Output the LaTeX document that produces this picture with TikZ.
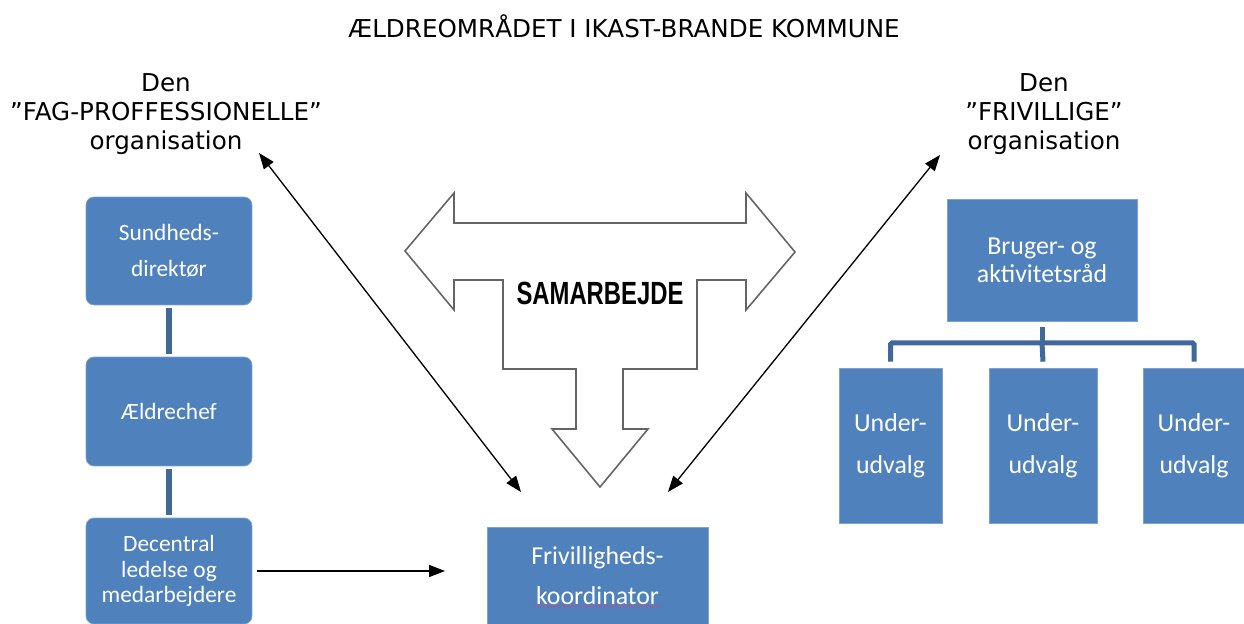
\documentclass[tikz,border=0pt]{standalone}
\usepackage{fontspec}
\setmainfont{DejaVu Sans}
\newfontfamily\boxfont{Carlito}
\newfontfamily\samfont{Liberation Sans}
\usetikzlibrary{arrows.meta}
\usetikzlibrary{decorations.pathmorphing}
\definecolor{boxblue}{RGB}{79,129,189}
\definecolor{boxedge}{RGB}{125,162,208}
\definecolor{linkblue}{RGB}{64,104,154}
\definecolor{outline}{RGB}{100,100,100}
\definecolor{spell}{RGB}{176,84,150}

\begin{document}
\begin{tikzpicture}[x=0.02cm,y=-0.02cm,
    orgbox/.style={fill=boxblue,draw=boxedge,line width=0.4pt,text=white,align=center,inner sep=0pt},
    lbox/.style={orgbox,rounded corners=0.16cm,minimum width=3.32cm,
      font=\boxfont\fontsize{13.3}{14.5}\selectfont},
    rbox/.style={orgbox,font=\boxfont\fontsize{14.7}{16}\selectfont},
    head/.style={align=center,font=\fontsize{14}{16.5}\selectfont},
    vline/.style={linkblue,line width=0.12cm,shorten <=0.06cm,shorten >=0.06cm},
    tline/.style={linkblue,line width=0.1cm},
    arr/.style={-{Triangle[length=0.32cm,width=0.24cm]},line width=0.75pt},
    darr/.style={{Triangle[length=0.32cm,width=0.24cm]}-{Triangle[length=0.32cm,width=0.24cm]},line width=0.75pt}]
  \useasboundingbox (0,0) rectangle (1244,624);

  % titles
  \node[head] (T) at (624,26) {ÆLDREOMRÅDET I IKAST-BRANDE KOMMUNE};
  \node[head] (FAG) at (166,114) {Den\\”FAG-PROFFESSIONELLE”\\organisation};
  \node[head] (FRI) at (1044,114) {Den\\”FRIVILLIGE”\\organisation};

  % the professional side
  \node[lbox,minimum height=2.16cm,font=\boxfont\fontsize{13.3}{20.5}\selectfont]
    (S) at (169,251) {Sundheds-\\direktør};
  \node[lbox,minimum height=2.18cm] (AE) at (169,411.5) {Ældrechef};
  \node[lbox,minimum height=2.12cm] (D) at (169,571) {Decentral\\ledelse og\\medarbejdere};
  \draw[vline] (S) -- (AE);
  \draw[vline] (AE) -- (D);

  % the voluntary side
  \node[rbox,minimum width=3.8cm,minimum height=2.44cm] (B) at (1042,260) {Bruger- og\\aktivitetsråd};
  \node[rbox,minimum width=2.06cm,minimum height=3.1cm,font=\boxfont\fontsize{14.7}{24}\selectfont]
    (U1) at (890.5,445.5) {Under-\\udvalg};
  \node[rbox,minimum width=2.16cm,minimum height=3.1cm,font=\boxfont\fontsize{14.7}{24}\selectfont]
    (U2) at (1043,445.5) {Under-\\udvalg};
  \node[rbox,minimum width=2.04cm,minimum height=3.1cm,font=\boxfont\fontsize{14.7}{24}\selectfont]
    (U3) at (1194,445.5) {Under-\\udvalg};
  \coordinate (bar) at (1042,343);
  \draw[tline] ([yshift=-0.12cm]B.south) -- (bar);
  \draw[tline,rounded corners=0.03cm] ([yshift=0.12cm]U1.north) |- (bar) -| ([yshift=0.12cm]U3.north);
  \draw[tline] (bar) -- ([yshift=0.12cm]U2.north);

  % coordinator
  \node[rbox,minimum width=4.42cm,minimum height=1.94cm,font=\boxfont\fontsize{14.7}{22.8}\selectfont]
    (K) at (597.5,575.5) {Frivilligheds-\\koordinator};
  \draw[spell,line width=0.4pt,decorate,decoration={snake,amplitude=0.02cm,segment length=0.08cm}]
    (533,606) -- (663,606);

  % samarbejde arrow
  \draw[outline,line width=0.9pt,line join=miter,fill=white]
    (405,251) -- (454,193) -- (454,223) -- (746,223) -- (746,193) -- (795,252)
    -- (746,310) -- (746,280) -- (697,280) -- (697,369) -- (623,369) -- (623,429)
    -- (648,429) -- (600,487) -- (552,429) -- (576,429) -- (576,369) -- (503,369)
    -- (503,280) -- (454,280) -- (454,310) -- cycle;
  \node[font=\samfont\bfseries\fontsize{17.4}{20}\selectfont] (SAM) at (600,293)
    {\scalebox{0.78}[1.05]{SAMARBEJDE}};

  % connections
  \coordinate (fagend) at (259,153);
  \coordinate (friend) at (940,155);
  \coordinate (kl) at (521,492);
  \coordinate (kr) at (668,492);
  \coordinate (hend) at (445,571);
  \draw[darr] (fagend) -- (kl);
  \draw[darr] (friend) -- (kr);
  \draw[arr] ([xshift=0.1cm]D.east) -- (hend);
\end{tikzpicture}
\end{document}
